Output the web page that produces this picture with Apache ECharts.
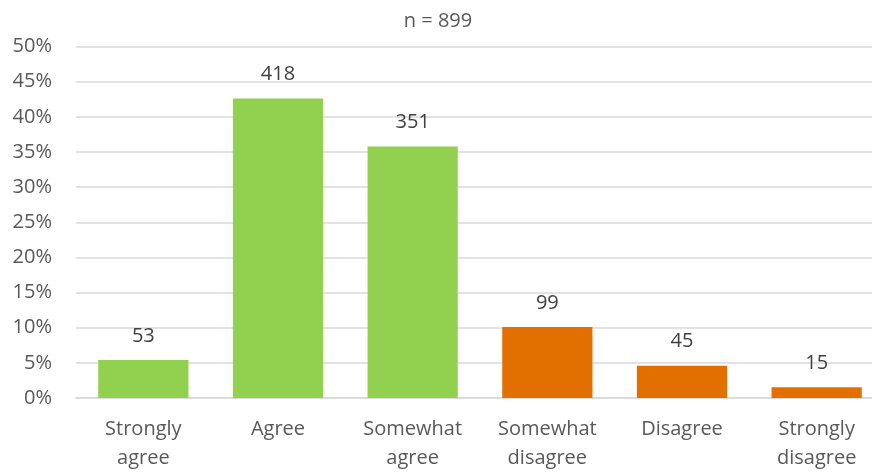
<!DOCTYPE html>
<html>
<head>
<meta charset="utf-8">
<script src="https://cdn.jsdelivr.net/npm/echarts@6/dist/echarts.min.js"></script>
<style>
html, body { margin: 0; padding: 0; background: #fff; }
#chart { width: 872px; height: 473px; }
</style>
</head>
<body>
<div id="chart"></div>
<script>
// Response categories and counts per answer
const categories = ['Strongly\nagree', 'Agree', 'Somewhat\nagree', 'Somewhat\ndisagree', 'Disagree', 'Strongly\ndisagree'];
const counts = [53, 418, 351, 99, 45, 15];
const yTicks = [0, 5, 10, 15, 20, 25, 30, 35, 40, 45, 50];
const titleText = 'n = 899';

const GREEN = '#92D050';
const ORANGE = '#E27000';
const TEXT = '#595959';
const FONT = '"Open Sans", "Noto Sans", sans-serif';

// Bar heights are each answer's share of all responses; labels show the raw counts
const total = counts.reduce((a, b) => a + b, 0);
const seriesData = counts.map((c, i) => ({
  value: c / total * 100,
  count: c,
  itemStyle: { color: i < 3 ? GREEN : ORANGE }
}));

const chart = echarts.init(document.getElementById('chart'));
chart.setOption({
  animation: false,
  title: {
    text: titleText,
    left: 433,
    textAlign: 'center',
    top: 6,
    textStyle: { color: TEXT, fontFamily: FONT, fontSize: 20, fontWeight: 'normal' }
  },
  // plot area runs slightly past the right edge of the canvas
  grid: { left: 76, width: 808, top: 46.5, bottom: 75, outerBoundsMode: 'none', containLabel: false },
  xAxis: {
    type: 'category',
    data: categories,
    axisLine: { lineStyle: { color: '#D9D9D9', width: 1.5 } },
    axisTick: { show: false },
    axisLabel: { color: TEXT, fontFamily: FONT, fontSize: 20, lineHeight: 29, margin: 17, interval: 0 }
  },
  yAxis: {
    type: 'value',
    min: yTicks[0],
    max: yTicks[yTicks.length - 1],
    interval: yTicks[1] - yTicks[0],
    axisLine: { show: false },
    axisTick: { show: false },
    splitLine: { lineStyle: { color: '#D9D9D9', width: 1.5 } },
    axisLabel: { color: TEXT, fontFamily: FONT, fontSize: 20, margin: 24, formatter: v => v + '%' }
  },
  series: [{
    type: 'bar',
    data: seriesData,
    barCategoryGap: '33%',
    label: {
      show: true,
      position: 'top',
      distance: 14,
      color: '#404040',
      fontFamily: FONT,
      fontSize: 20,
      formatter: p => p.data.count
    }
  }]
});
</script>
</body>
</html>
